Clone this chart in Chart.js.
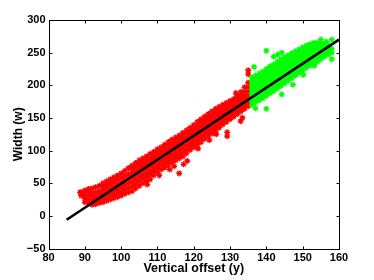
<!DOCTYPE html>
<html>
<head>
<meta charset="utf-8">
<script src="https://cdn.jsdelivr.net/npm/chart.js@4/dist/chart.umd.min.js"></script>
<style>
  html, body { margin: 0; padding: 0; background: #fff; }
  canvas { display: block; }
</style>
</head>
<body>
<canvas id="chart" width="374" height="280"></canvas>
<script>
// each row: [x, y values read along that column of the cloud]
const redColumns = [
  [89, 31, 36],
  [90, 21, 27, 33, 39],
  [91, 19, 25, 31, 37, 41],
  [92, 17, 23, 29, 35, 42],
  [93, 18, 24, 30, 36, 44],
  [94, 20, 26, 32, 38, 46],
  [95, 21, 27, 33, 39, 45, 50],
  [96, 23, 29, 35, 41, 47, 53],
  [97, 25, 31, 37, 43, 49, 56],
  [98, 27, 33, 39, 45, 52, 59],
  [99, 29, 35, 41, 48, 55, 62],
  [100, 31, 37, 44, 51, 58, 65],
  [101, 34, 40, 47, 54, 61, 69],
  [102, 36, 43, 50, 57, 64, 73],
  [103, 38, 45, 52, 59, 66, 72, 77],
  [104, 42, 49, 56, 63, 70, 76, 81],
  [105, 46, 53, 60, 67, 73, 79, 85],
  [106, 50, 57, 63, 70, 76, 82, 88],
  [107, 53, 60, 66, 73, 79, 85, 91],
  [108, 56, 63, 69, 76, 82, 88, 95],
  [109, 62, 68, 74, 80, 86, 92, 98],
  [110, 67, 73, 79, 85, 91, 97, 102],
  [111, 71, 77, 83, 89, 95, 100, 105],
  [112, 74, 80, 86, 92, 98, 104, 109],
  [113, 78, 84, 90, 96, 102, 108, 113],
  [114, 82, 88, 94, 100, 106, 112, 117],
  [115, 85, 91, 97, 103, 109, 115, 120],
  [116, 88, 94, 100, 106, 112, 118, 123],
  [117, 91, 97, 103, 109, 115, 121, 127],
  [118, 96, 102, 108, 114, 120, 126, 131],
  [119, 101, 107, 113, 119, 125, 130, 135],
  [120, 105, 111, 117, 123, 129, 134, 139],
  [121, 109, 115, 121, 127, 133, 139, 144],
  [122, 113, 119, 125, 131, 137, 143, 148],
  [123, 118, 124, 130, 136, 142, 147, 152],
  [124, 122, 128, 134, 140, 146, 151, 156],
  [125, 126, 132, 138, 144, 150, 155, 160],
  [126, 130, 136, 142, 148, 154, 159, 164],
  [127, 135, 141, 147, 152, 157, 162, 167],
  [128, 140, 145, 150, 155, 160, 165, 170],
  [129, 144, 149, 154, 159, 164, 169, 173],
  [130, 148, 153, 158, 163, 168, 172, 176],
  [131, 152, 157, 162, 167, 171, 175, 179],
  [132, 156, 161, 166, 171, 176, 180, 184],
  [133, 160, 165, 170, 175, 180, 185, 190],
  [134, 164, 169, 174, 179, 184, 190, 197],
  [135, 168, 173, 178, 184, 190, 197, 204]
];
const redStrays = [
  [88.7, 36], [89.6, 33], [107.2, 48], [110.5, 62], [113.4, 71], [114.6, 76],
  [116, 65], [117.2, 79], [118.2, 84], [121.2, 103], [124.3, 116], [126.2, 125],
  [129.2, 128], [129.2, 122], [132.9, 145], [133.4, 150], [131.6, 188],
  [135, 223], [135, 217]
];

const greenColumns = [
  [136, 170, 176, 182, 188, 194, 200, 206, 212],
  [137, 174, 180, 186, 192, 198, 204, 210, 215],
  [138, 177, 183, 189, 195, 201, 207, 213, 218],
  [139, 180, 186, 192, 198, 204, 210, 216, 221],
  [140, 184, 190, 196, 202, 208, 214, 220, 225],
  [141, 188, 194, 200, 206, 212, 218, 224, 229],
  [142, 191, 197, 203, 209, 215, 221, 227, 232],
  [143, 195, 201, 207, 213, 219, 225, 231, 236],
  [144, 199, 205, 211, 217, 223, 229, 235, 240],
  [145, 203, 209, 215, 221, 227, 233, 238, 243],
  [146, 207, 213, 219, 225, 231, 236, 241, 246],
  [147, 211, 217, 223, 229, 234, 239, 244, 249],
  [148, 215, 221, 227, 232, 237, 242, 247, 252],
  [149, 219, 225, 230, 235, 240, 245, 250, 255],
  [150, 223, 229, 234, 239, 244, 249, 254, 258],
  [151, 227, 232, 237, 242, 247, 252, 257, 261],
  [152, 230, 235, 240, 245, 250, 255, 260, 263],
  [153, 233, 238, 243, 248, 253, 258, 262, 265],
  [154, 236, 241, 246, 251, 256, 261, 265],
  [155, 240, 245, 250, 255, 260, 264],
  [156, 244, 249, 254, 259, 263],
  [157, 247, 252, 257, 262],
  [158, 250, 256]
];
const greenStrays = [
  [140, 253], [142, 244], [143.1, 247], [144.2, 250], [137, 165], [140, 164],
  [144.2, 186], [136.6, 228], [147.3, 201], [150.2, 216], [153.2, 230],
  [155, 270], [156.5, 267], [158, 240], [158, 270]
];

// fitted line end points
const fitX = [85, 160];
const fitY = [-6, 270];

const xTicks = [80, 90, 100, 110, 120, 130, 140, 150, 160];
const yTicks = [-50, 0, 50, 100, 150, 200, 250, 300];

function toPoints(columns, strays) {
  const pts = [];
  columns.forEach(col => {
    for (let i = 1; i < col.length; i++) pts.push({ x: col[0], y: col[i] });
  });
  strays.forEach(p => pts.push({ x: p[0], y: p[1] }));
  return pts;
}

// matlab style box with inward ticks on all four sides
const boxTicks = {
  id: 'boxTicks',
  afterDatasetsDraw(chart) {
    const { ctx, chartArea: a, scales: { x, y } } = chart;
    const L = Math.round(a.left) + 0.5, R = Math.round(a.right) + 0.5;
    const T = Math.round(a.top) + 0.5, B = Math.round(a.bottom) + 0.5;
    ctx.save();
    ctx.strokeStyle = '#000';
    ctx.lineWidth = 1;
    ctx.beginPath();
    ctx.rect(L, T, R - L, B - T);
    x.ticks.forEach(t => {
      const px = Math.round(x.getPixelForValue(t.value)) + 0.5;
      ctx.moveTo(px, B); ctx.lineTo(px, B - 3);
      ctx.moveTo(px, T); ctx.lineTo(px, T + 3);
    });
    y.ticks.forEach(t => {
      const py = Math.round(y.getPixelForValue(t.value)) + 0.5;
      ctx.moveTo(L, py); ctx.lineTo(L + 3, py);
      ctx.moveTo(R, py); ctx.lineTo(R - 3, py);
    });
    ctx.stroke();
    ctx.restore();
  }
};

const font = { family: 'Liberation Sans, Arial, sans-serif', weight: 'bold', size: 11 };

new Chart(document.getElementById('chart'), {
  type: 'scatter',
  data: {
    datasets: [
      {
        type: 'line',
        data: fitX.map((v, i) => ({ x: v, y: fitY[i] })),
        borderColor: '#000',
        borderWidth: 2.6,
        pointRadius: 0,
        fill: false
      },
      {
        data: toPoints(greenColumns, greenStrays),
        pointStyle: 'star',
        pointRadius: 3,
        borderColor: '#00ff00',
        borderWidth: 1.3
      },
      {
        data: toPoints(redColumns, redStrays),
        pointStyle: 'star',
        pointRadius: 3,
        borderColor: '#ff0000',
        borderWidth: 1.3
      }
    ]
  },
  options: {
    responsive: false,
    animation: false,
    devicePixelRatio: 1,
    layout: { padding: { left: 0, right: 35, top: 20, bottom: 0 } },
    plugins: { legend: { display: false }, tooltip: { enabled: false } },
    scales: {
      x: {
        type: 'linear',
        min: 80,
        max: 160,
        afterBuildTicks: s => { s.ticks = xTicks.map(v => ({ value: v })); },
        afterFit: s => { s.height = 31.5; },
        grid: { display: false, drawTicks: false },
        border: { display: false },
        ticks: { color: '#000', font: font, padding: 3 },
        title: { display: true, text: 'Vertical offset (y)', color: '#000', padding: { top: 0, bottom: 3.5 }, font: { ...font, size: 12.5 } }
      },
      y: {
        type: 'linear',
        min: -50,
        max: 300,
        afterBuildTicks: s => { s.ticks = yTicks.map(v => ({ value: v })); },
        afterFit: s => { s.width = 48.5; },
        grid: { display: false, drawTicks: false },
        border: { display: false },
        ticks: { color: '#000', font: font, padding: 3, callback: v => String(v).replace('-', '\u2212') },
        title: { display: true, text: 'Width (w)', color: '#000', padding: { top: 11.5, bottom: 0 }, font: { ...font, size: 12 } }
      }
    }
  },
  plugins: [boxTicks]
});
</script>
</body>
</html>
